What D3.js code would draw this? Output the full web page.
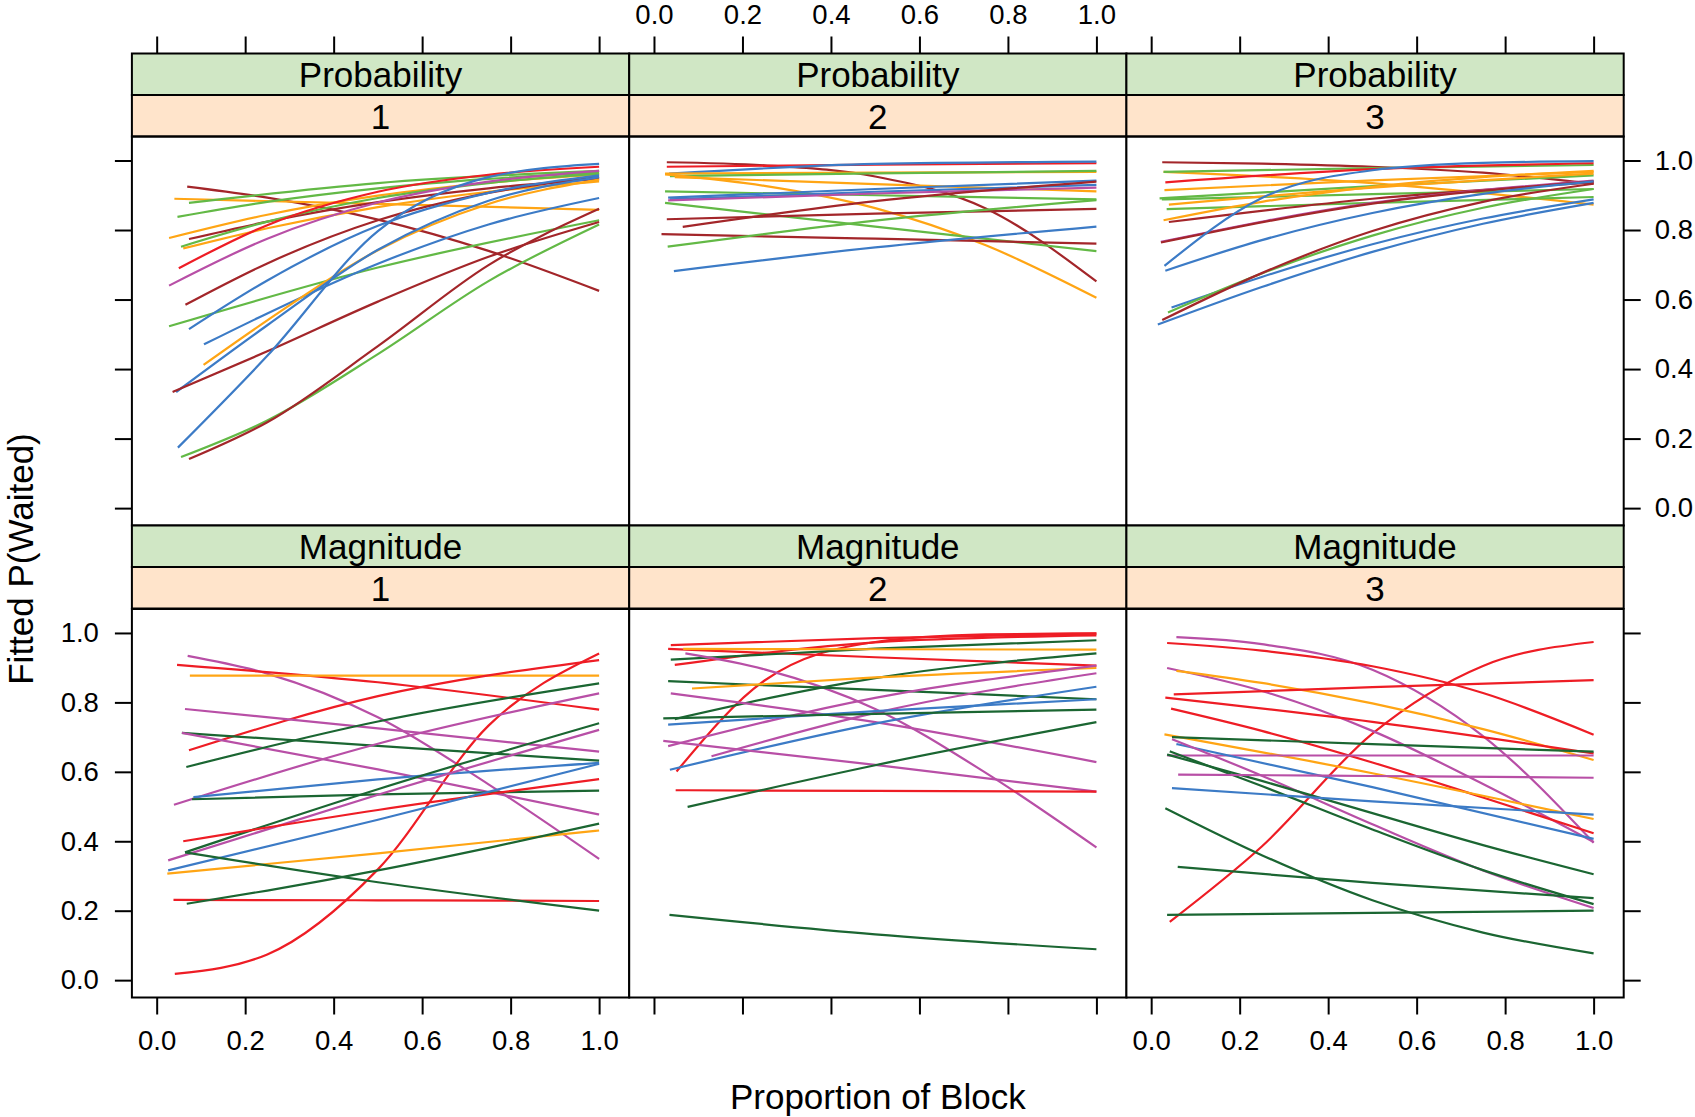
<!DOCTYPE html>
<html><head><meta charset="utf-8">
<script src="https://cdn.jsdelivr.net/npm/d3@7"></script>
<style>
body{margin:0;background:#fff;}
svg{display:block;font-family:"Liberation Sans",Arial,Helvetica,sans-serif;}
</style></head>
<body>
<svg id="chart" width="1695" height="1117"></svg>
<script>
// ---- data (group code, start x, fitted values) ----
// 3 values: at [x0, 0.5, 1.0]; 5 values: at [x0, 0.25, 0.5, 0.75, 1.0]
const typeLevels = ["Probability", "Magnitude"];
const blockLevels = ["1", "2", "3"];
const tickValues = [0, 0.2, 0.4, 0.6, 0.8, 1.0];

const prob1 = [
 ["dr",.069,[.925,.893,.83,.74,.625]],
 ["o",.04,[.89,.875,.858]],
 ["g",.073,[.878,.935,.97]],
 ["g",.047,[.838,.881,.92,.947,.965]],
 ["o",.028,[.777,.844,.899,.936,.96]],
 ["dr",.073,[.774,.824,.88,.92,.947]],
 ["g",.055,[.752,.824,.892,.935,.962]],
 ["o",.06,[.747,.805,.866,.91,.94]],
 ["r",.05,[.69,.814,.91,.959,.982]],
 ["m",.028,[.64,.775,.879,.939,.97]],
 ["dr",.065,[.585,.704,.828,.907,.952]],
 ["g",.028,[.523,.692,.828]],
 ["b",.073,[.515,.655,.812,.907,.957]],
 ["b",.107,[.471,.56,.703,.816,.892]],
 ["o",.106,[.412,.54,.742,.875,.945]],
 ["b",.044,[.334,.526,.743,.884,.952]],
 ["dr",.036,[.334,.451,.594,.723,.823]],
 ["b",.048,[.174,.438,.797,.952,.99]],
 ["g",.055,[.147,.252,.443,.653,.816]],
 ["dr",.073,[.141,.247,.466,.699,.861]]
];
const prob2 = [
 ["dr",.029,[.995,.986,.954,.862,.652]],
 ["r",.029,[.982,.988,.992]],
 ["b",.034,[.962,.99,.997]],
 ["o",.025,[.962,.965,.967]],
 ["g",.036,[.955,.963,.97]],
 ["o",.025,[.96,.927,.863,.756,.605]],
 ["o",.047,[.952,.932,.911]],
 ["g",.025,[.911,.9,.888]],
 ["b",.032,[.893,.918,.942]],
 ["b",.036,[.888,.91,.93]],
 ["m",.032,[.885,.905,.922]],
 ["g",.025,[.878,.81,.739]],
 ["dr",.029,[.831,.847,.861]],
 ["dr",.065,[.809,.883,.939]],
 ["dr",.017,[.788,.775,.761]],
 ["g",.031,[.752,.827,.886]],
 ["b",.045,[.682,.75,.81]]
];
const prob3 = [
 ["dr",.025,[.995,.991,.982,.965,.933]],
 ["o",.028,[.967,.935,.873]],
 ["g",.028,[.967,.978,.987]],
 ["r",.032,[.937,.975,.992]],
 ["o",.03,[.915,.943,.967]],
 ["g",.019,[.891,.926,.957]],
 ["g",.024,[.888,.903,.918]],
 ["o",.04,[.873,.922,.962]],
 ["g",.035,[.86,.878,.895]],
 ["o",.028,[.828,.881,.924,.952,.97]],
 ["dr",.04,[.823,.89,.937]],
 ["m",.022,[.766,.878,.942]],
 ["dr",.022,[.764,.876,.94]],
 ["b",.03,[.697,.892,.972,.993,.998]],
 ["b",.032,[.683,.771,.849,.904,.94]],
 ["b",.046,[.577,.665,.759,.833,.888]],
 ["g",.038,[.563,.675,.784,.864,.918]],
 ["dr",.025,[.541,.676,.797,.881,.933]],
 ["b",.015,[.528,.636,.737,.818,.878]]
];
const mag1 = [
 ["m",.07,[.934,.883,.757,.564,.349]],
 ["r",.046,[.908,.858,.779]],
 ["o",.075,[.877,.877,.877]],
 ["r",.073,[.662,.818,.922]],
 ["r",.041,[.018,.074,.319,.733,.941]],
 ["m",.064,[.781,.725,.658]],
 ["dg",.057,[.712,.675,.632]],
 ["m",.057,[.712,.607,.477]],
 ["dg",.067,[.614,.745,.855]],
 ["m",.039,[.505,.681,.826]],
 ["b",.083,[.527,.578,.626]],
 ["dg",.08,[.521,.535,.546]],
 ["dg",.064,[.368,.55,.74]],
 ["m",.026,[.345,.534,.721]],
 ["r",.06,[.40,.49,.579]],
 ["b",.026,[.316,.462,.623]],
 ["o",.024,[.307,.365,.431]],
 ["r",.038,[.231,.23,.228]],
 ["dg",.068,[.22,.258,.316,.381,.451]],
 ["dg",.064,[.368,.282,.20]]
];
const mag2 = [
 ["r",.038,[.965,.985,.998]],
 ["r",.032,[.954,.93,.906]],
 ["r",.047,[.908,.973,.993]],
 ["r",.051,[.601,.863,.974,.996,.999]],
 ["dg",.038,[.923,.955,.979]],
 ["o",.066,[.954,.953,.952]],
 ["m",.071,[.941,.895,.781,.597,.382]],
 ["dg",.032,[.861,.836,.809]],
 ["dg",.047,[.752,.87,.941]],
 ["o",.086,[.84,.872,.899]],
 ["m",.038,[.826,.743,.628]],
 ["m",.032,[.674,.813,.906]],
 ["m",.13,[.645,.77,.884]],
 ["b",.032,[.736,.775,.809]],
 ["b",.036,[.606,.739,.845]],
 ["dg",.021,[.754,.767,.779]],
 ["m",.021,[.689,.62,.543]],
 ["r",.049,[.547,.545,.543]],
 ["dg",.076,[.499,.619,.743]],
 ["dg",.035,[.188,.132,.089]]
];
const mag3 = [
 ["m",.057,[.988,.968,.894,.703,.396]],
 ["r",.036,[.971,.949,.904,.827,.707]],
 ["r",.042,[.168,.385,.71,.905,.974]],
 ["m",.036,[.899,.833,.718,.565,.398]],
 ["o",.057,[.891,.856,.797,.723,.634]],
 ["r",.051,[.823,.844,.864]],
 ["r",.032,[.814,.744,.653]],
 ["r",.045,[.782,.718,.627,.526,.423]],
 ["o",.03,[.708,.596,.464]],
 ["dg",.047,[.70,.68,.658]],
 ["m",.036,[.647,.647,.647]],
 ["b",.057,[.68,.556,.407]],
 ["m",.047,[.694,.589,.449,.316,.208]],
 ["dg",.042,[.659,.559,.434,.317,.219]],
 ["dg",.036,[.65,.574,.481,.389,.305]],
 ["m",.061,[.592,.588,.583]],
 ["b",.047,[.553,.515,.477]],
 ["dg",.032,[.495,.36,.23,.137,.077]],
 ["dg",.06,[.326,.28,.236]],
 ["dg",.036,[.188,.194,.20]]
];
const panelData = [[prob1, prob2, prob3], [mag1, mag2, mag3]];

const groupColors = {dr:"#A3262A", r:"#EE1D25", o:"#FFA514", g:"#63B946", b:"#3C7BC6", m:"#B84FA6", dg:"#1B6632"};

// ---- layout ----
const svg = d3.select("#chart");
const colLeft = [131.9, 629.2, 1126.4], colW = 497.3;
const rowStripTop = [53.5, 525.5], stripH = 41.5;
const rowPanelTop = [136.5, 609], rowPanelBot = [525.5, 997.5];
const fontFam = '"Liberation Sans",Arial,Helvetica,sans-serif';
const tickFont = 27.5, stripFont = 35, titleFont = 35;

const line = d3.line().curve(d3.curveMonotoneX);

for (let r = 0; r < 2; r++) {
  const y = d3.scaleLinear().domain([-0.05, 1.069]).range([rowPanelBot[r], rowPanelTop[r]]);
  for (let c = 0; c < 3; c++) {
    const x = d3.scaleLinear().domain([-0.056, 1.068]).range([colLeft[c], colLeft[c] + colW]);
    const g = svg.append("g");
    g.append("rect").attr("x", colLeft[c]).attr("y", rowPanelTop[r]).attr("width", colW)
      .attr("height", rowPanelBot[r] - rowPanelTop[r]).attr("fill", "#fff");
    const clipId = "clip" + r + c;
    svg.append("clipPath").attr("id", clipId).append("rect")
      .attr("x", colLeft[c]).attr("y", rowPanelTop[r]).attr("width", colW).attr("height", rowPanelBot[r] - rowPanelTop[r]);
    const lg = g.append("g").attr("clip-path", "url(#" + clipId + ")");
    panelData[r][c].forEach(([grp, x0, vals]) => {
      const xs = vals.length === 5 ? [x0, 0.25, 0.5, 0.75, 1] : [x0, 0.5, 1];
      const pts = vals.map((v, i) => [x(xs[i]), y(v)]);
      lg.append("path").attr("d", line(pts)).attr("fill", "none")
        .attr("stroke", groupColors[grp]).attr("stroke-width", 2.2);
    });
    // strips
    g.append("rect").attr("x", colLeft[c]).attr("y", rowStripTop[r]).attr("width", colW).attr("height", stripH)
      .attr("fill", "#D0E7C5").attr("stroke", "#000").attr("stroke-width", 2);
    g.append("rect").attr("x", colLeft[c]).attr("y", rowStripTop[r] + stripH).attr("width", colW).attr("height", stripH)
      .attr("fill", "#FFE4CB").attr("stroke", "#000").attr("stroke-width", 2);
    g.append("text").attr("x", colLeft[c] + colW / 2).attr("y", rowStripTop[r] + 33.5)
      .attr("text-anchor", "middle").attr("font-size", stripFont).attr("fill", "#000").text(typeLevels[r]);
    g.append("text").attr("x", colLeft[c] + colW / 2).attr("y", rowStripTop[r] + stripH + 33.5)
      .attr("text-anchor", "middle").attr("font-size", stripFont).attr("fill", "#000").text(blockLevels[c]);
    g.append("rect").attr("x", colLeft[c]).attr("y", rowPanelTop[r]).attr("width", colW)
      .attr("height", rowPanelBot[r] - rowPanelTop[r]).attr("fill", "none").attr("stroke", "#000").attr("stroke-width", 2);

    const fmt = d3.format(".1f");
    if (r === 0) {
      const ax = d3.axisTop(x).tickValues(tickValues).tickSize(17).tickPadding(12.5)
        .tickFormat(c === 1 ? fmt : () => "").tickSizeOuter(0);
      const a = svg.append("g").attr("transform", `translate(0,${rowStripTop[0]})`).call(ax);
      styleAxis(a);
    }
    if (r === 1) {
      const ax = d3.axisBottom(x).tickValues(tickValues).tickSize(17).tickPadding(15.5)
        .tickFormat(c !== 1 ? fmt : () => "").tickSizeOuter(0);
      const a = svg.append("g").attr("transform", `translate(0,${rowPanelBot[1]})`).call(ax);
      styleAxis(a);
    }
    if (c === 0) {
      const ax = d3.axisLeft(y).tickValues(tickValues).tickSize(17).tickPadding(16)
        .tickFormat(r === 1 ? fmt : () => "").tickSizeOuter(0);
      const a = svg.append("g").attr("transform", `translate(${colLeft[0]},0)`).call(ax);
      styleAxis(a);
    }
    if (c === 2) {
      const ax = d3.axisRight(y).tickValues(tickValues).tickSize(17).tickPadding(14)
        .tickFormat(r === 0 ? fmt : () => "").tickSizeOuter(0);
      const a = svg.append("g").attr("transform", `translate(${colLeft[2] + colW},0)`).call(ax);
      styleAxis(a);
    }
  }
}

function styleAxis(a) {
  a.select(".domain").remove();
  a.selectAll(".tick line").attr("stroke", "#000").attr("stroke-width", 2);
  a.selectAll(".tick text").attr("fill", "#000").attr("font-size", tickFont).attr("font-family", fontFam);
}

svg.append("text").attr("x", (colLeft[0] + colLeft[2] + colW) / 2).attr("y", 1109)
  .attr("text-anchor", "middle").attr("font-size", titleFont).attr("fill", "#000").text("Proportion of Block");
svg.append("text").attr("transform", "translate(33,559) rotate(-90)")
  .attr("text-anchor", "middle").attr("font-size", titleFont).attr("fill", "#000").text("Fitted P(Waited)");
</script>
</body></html>
